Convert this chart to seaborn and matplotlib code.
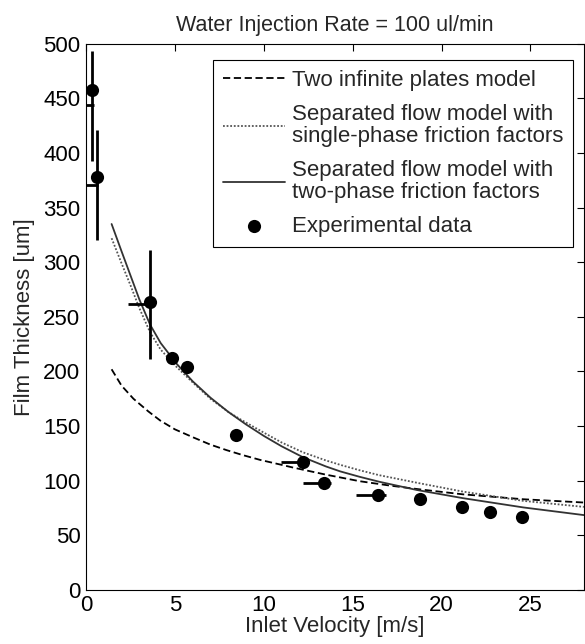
import numpy as np
import pandas as pd
import matplotlib
matplotlib.use('Agg')
import matplotlib.pyplot as plt
import seaborn as sns

sns.set_style("white")
plt.rcParams['font.family'] = ['Liberation Sans', 'DejaVu Sans']

# Experimental data
exp_v = [0.35, 0.6, 3.6, 4.85, 5.7, 8.45, 12.2, 13.4, 16.4, 18.8, 21.15, 22.7, 24.5]
exp_h = [458, 378, 264, 212, 204, 142, 117.5, 97.7, 87, 83, 76, 71, 67]
# vertical error bars (lower / upper extent)
yerr_lo = [65, 58, 53, 0, 0, 0, 0, 0, 0, 0, 0, 0, 0]
yerr_hi = [35, 43, 47, 0, 0, 0, 0, 0, 0, 0, 0, 0, 0]
# horizontal error bars (drawn at their own height)
hbar_h = [444, 371, 262, 212, 204, 142, 117.5, 97.7, 87, 83, 76, 71, 67]
xerr_lo = [0.35, 0.6, 1.25, 0, 0, 0, 1.25, 1.2, 1.2, 0, 0, 0, 0]
xerr_hi = [0.1, 0.07, 0.0, 0, 0, 0, 0.3, 0.4, 0.5, 0, 0, 0, 0]

# Two infinite plates model
plates_v = [1.44, 2.0, 2.67, 3.5, 4.18, 5.0, 6.05, 7.0, 7.9, 8.8, 9.8, 11.0, 11.65, 13.5, 15.4, 17.1, 18.8, 21.2, 24.6, 28]
plates_h = [202, 187, 175, 163.5, 155, 147, 139.5, 133, 128, 123.5, 119, 114.5, 112, 105.5, 99.5, 95.5, 92, 87.5, 83, 80]

# Separated flow model, single-phase friction factors
single_v = [1.44, 2.0, 2.5, 3.0, 3.6, 4.2, 5.1, 6.0, 7.0, 8.0, 8.7, 10, 11, 12.2, 13.5, 14.3, 15.4, 16.5, 18.8, 21.2, 24.6, 28]
single_h = [322, 299, 279, 258, 236, 220, 204, 190, 175, 163, 156, 144, 135, 126, 118.5, 114.5, 109.5, 105, 97.5, 90, 81.5, 76]

# Separated flow model, two-phase friction factors
two_v = [1.44, 2.0, 2.5, 3.0, 3.6, 4.2, 5.1, 6.0, 7.0, 8.0, 9.0, 10, 11, 12.2, 13.5, 14.3, 15.4, 16.5, 18.6, 21.2, 24.6, 28]
two_h = [335, 310, 288, 266, 243, 226, 207, 191, 176, 163, 151.5, 141, 131.5, 121.5, 113, 108.5, 103.5, 99, 91.5, 84, 75.5, 68.5]

fig = plt.figure(figsize=(5.85, 6.44), dpi=100)
ax = fig.add_axes([0.147, 0.084, 0.851, 0.848])

sns.lineplot(x=plates_v, y=plates_h, ax=ax, color='black', linestyle=(0, (4, 2)),
             linewidth=1.3, label='Two infinite plates model')
sns.lineplot(x=single_v, y=single_h, ax=ax, color='#555555', linestyle=(0, (1, 1)),
             linewidth=1.3, label='Separated flow model with\nsingle-phase friction factors')
sns.lineplot(x=two_v, y=two_h, ax=ax, color='#333333', linestyle='-',
             linewidth=1.3, label='Separated flow model with\ntwo-phase friction factors')

ax.errorbar(exp_v, exp_h, yerr=[yerr_lo, yerr_hi], fmt='none', ecolor='black',
            elinewidth=2, capsize=0)
ax.errorbar(exp_v, hbar_h, xerr=[xerr_lo, xerr_hi], fmt='none', ecolor='black',
            elinewidth=2, capsize=0)
sns.scatterplot(x=exp_v, y=exp_h, ax=ax, color='black', marker='o', s=90,
                edgecolor='black', linewidth=0, zorder=5, label='Experimental data')

ax.set_xlim(0, 28)
ax.set_ylim(0, 500)
ax.set_xticks([0, 5, 10, 15, 20, 25])
ax.set_yticks(np.arange(0, 501, 50))
ax.tick_params(direction='in', length=5, width=0.8, top=True, right=True,
               labelsize=16, colors='black', pad=4)
for s in ax.spines.values():
    s.set_color('black')
    s.set_linewidth(0.8)

ax.set_xlabel('Inlet Velocity [m/s]', fontsize=16, labelpad=0)
ax.set_ylabel('Film Thickness [um]', fontsize=16, labelpad=6)
ax.set_title('Water Injection Rate = 100 ul/min', fontsize=15.5, pad=9)

leg = ax.legend(loc='upper right', bbox_to_anchor=(0.978, 0.971), fontsize=16,
                frameon=True, fancybox=False, framealpha=1, edgecolor='black',
                handlelength=2.8, borderpad=0.45, labelspacing=0.6, handletextpad=0.3,
                borderaxespad=0)
leg.get_frame().set_linewidth(0.8)
for t in leg.get_texts():
    t.set_linespacing(1.05)

fig.savefig('out.png', dpi=100)
